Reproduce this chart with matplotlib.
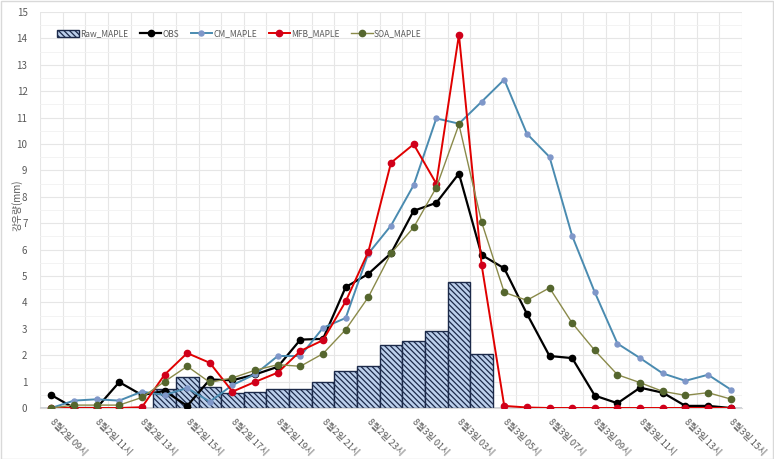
import matplotlib
matplotlib.use("Agg")
import matplotlib.pyplot as plt
from matplotlib.patches import Rectangle
import numpy as np

plt.rcParams['font.family'] = ['Noto Sans CJK KR', 'DejaVu Sans']
plt.rcParams['hatch.linewidth'] = 0.9

categories = ["8월2일 09시", "8월2일 10시", "8월2일 11시", "8월2일 12시", "8월2일 13시",
              "8월2일 14시", "8월2일 15시", "8월2일 16시", "8월2일 17시", "8월2일 18시",
              "8월2일 19시", "8월2일 20시", "8월2일 21시", "8월2일 22시", "8월2일 23시",
              "8월3일 00시", "8월3일 01시", "8월3일 02시", "8월3일 03시", "8월3일 04시",
              "8월3일 05시", "8월3일 06시", "8월3일 07시", "8월3일 08시", "8월3일 09시",
              "8월3일 10시", "8월3일 11시", "8월3일 12시", "8월3일 13시", "8월3일 14시",
              "8월3일 15시"]

raw_maple = [0, 0, 0, 0, 0, 0.71, 1.18, 0.80, 0.55, 0.62, 0.72, 0.72, 0.98, 1.41, 1.60,
             2.39, 2.53, 2.92, 4.79, 2.06, 0, 0, 0, 0, 0, 0, 0, 0, 0, 0, 0]
obs = [0.49, 0, 0, 0.98, 0.49, 0.65, 0.08, 1.08, 1.05, 1.27, 1.56, 2.59, 2.62, 4.58, 5.08,
       5.86, 7.47, 7.77, 8.88, 5.80, 5.29, 3.57, 1.97, 1.89, 0.47, 0.18, 0.77, 0.58, 0.08,
       0.08, 0]
cm_maple = [0, 0.28, 0.33, 0.28, 0.62, 0.49, 0.76, 0.24, 0.87, 1.28, 1.97, 1.97, 3.04, 3.41,
            5.85, 6.91, 8.44, 10.97, 10.77, 11.6, 12.44, 10.39, 9.51, 6.52, 4.38, 2.44, 1.89,
            1.31, 1.03, 1.26, 0.70]
mfb_maple = [0, 0, 0, 0, 0.03, 1.26, 2.08, 1.71, 0.62, 0.99, 1.34, 2.16, 2.57, 4.04, 5.92,
             9.29, 9.99, 8.5, 14.14, 5.43, 0.08, 0.02, 0, 0, 0, 0, 0, 0, 0, 0, 0]
soa_maple = [0, 0.11, 0.11, 0.11, 0.4, 1.0, 1.58, 0.97, 1.14, 1.43, 1.64, 1.58, 2.06, 2.97,
             4.2, 5.86, 6.84, 8.35, 10.74, 7.05, 4.38, 4.08, 4.55, 3.22, 2.18, 1.26, 0.96,
             0.63, 0.48, 0.58, 0.34]

text_color = '#595959'
grid_color = '#e6e6e6'

fig = plt.figure(figsize=(7.74, 4.59), dpi=100)
ax = fig.add_axes([40 / 774, 1 - 408 / 459, 702 / 774, 396 / 459])

x = np.arange(len(categories))

bars = ax.bar(x, raw_maple, width=1.0, facecolor='#bcd0ec', edgecolor='#1c2a4a',
              hatch='\\\\\\\\\\\\', linewidth=1.0, label='Raw_MAPLE', zorder=2)

l1, = ax.plot(x, obs, color='black', lw=1.6, marker='o', ms=4.5, label='OBS', zorder=3)
l2, = ax.plot(x, cm_maple, color='#4a8bb0', lw=1.4, marker='o', ms=3.6,
              markerfacecolor='#7f97c9', markeredgecolor='#7f97c9', label='CM_MAPLE', zorder=4)
l3, = ax.plot(x, mfb_maple, color='#e00000', lw=1.4, marker='o', ms=4.5,
              markerfacecolor='#d0001a', markeredgecolor='#d0001a', label='MFB_MAPLE', zorder=5)
l4, = ax.plot(x, soa_maple, color='#8a8a4a', lw=1.0, marker='o', ms=4.5,
              markerfacecolor='#55662e', markeredgecolor='#55662e', label='SOA_MAPLE', zorder=6)

ax.set_xlim(-0.5, len(categories) - 0.5)
ax.set_ylim(0, 15)
ax.set_yticks(np.arange(0, 16, 1))
ax.set_yticks(np.arange(0.5, 15, 1), minor=True)
ax.set_xticks(np.arange(-0.5, len(categories), 1), minor=True)
ax.set_xticks(x[::2])
ax.set_xticklabels(categories[::2], rotation=-45, ha='left', va='center',
                   rotation_mode='anchor', fontsize=6.6, color=text_color)
ax.tick_params(axis='y', labelsize=7, labelcolor=text_color, length=0, pad=9)
ax.tick_params(axis='x', which='major', length=0, pad=9)
ax.tick_params(which='minor', length=0)

ax.grid(True, which='major', axis='y', color=grid_color, lw=0.8, zorder=0)
ax.grid(True, which='minor', axis='y', color='#f1f1f1', lw=0.6, zorder=0)
ax.grid(True, which='minor', axis='x', color=grid_color, lw=0.8, zorder=0)
ax.set_axisbelow(True)
for s in ['top', 'right', 'left']:
    ax.spines[s].set_visible(False)
ax.spines['bottom'].set_color('#d9d9d9')

fig.text(17 / 774, 1 - 205 / 459, '강우량(mm)', rotation=90, ha='center', va='center',
         fontsize=7, color=text_color)

leg = ax.legend(handles=[bars, l1, l2, l3, l4],
                loc='upper left', bbox_to_anchor=(50 / 774, 1 - 22 / 459),
                bbox_transform=fig.transFigure, ncol=5, frameon=False, fontsize=6,
                handlelength=2.6, handleheight=0.8, columnspacing=1.4, handletextpad=0.1,
                labelcolor=text_color)

fig.patches.append(Rectangle((0.001, 0.001), 0.998, 0.997, transform=fig.transFigure,
                             fill=False, edgecolor='#d9d9d9', lw=1.0))

fig.savefig('out.png', dpi=100)
